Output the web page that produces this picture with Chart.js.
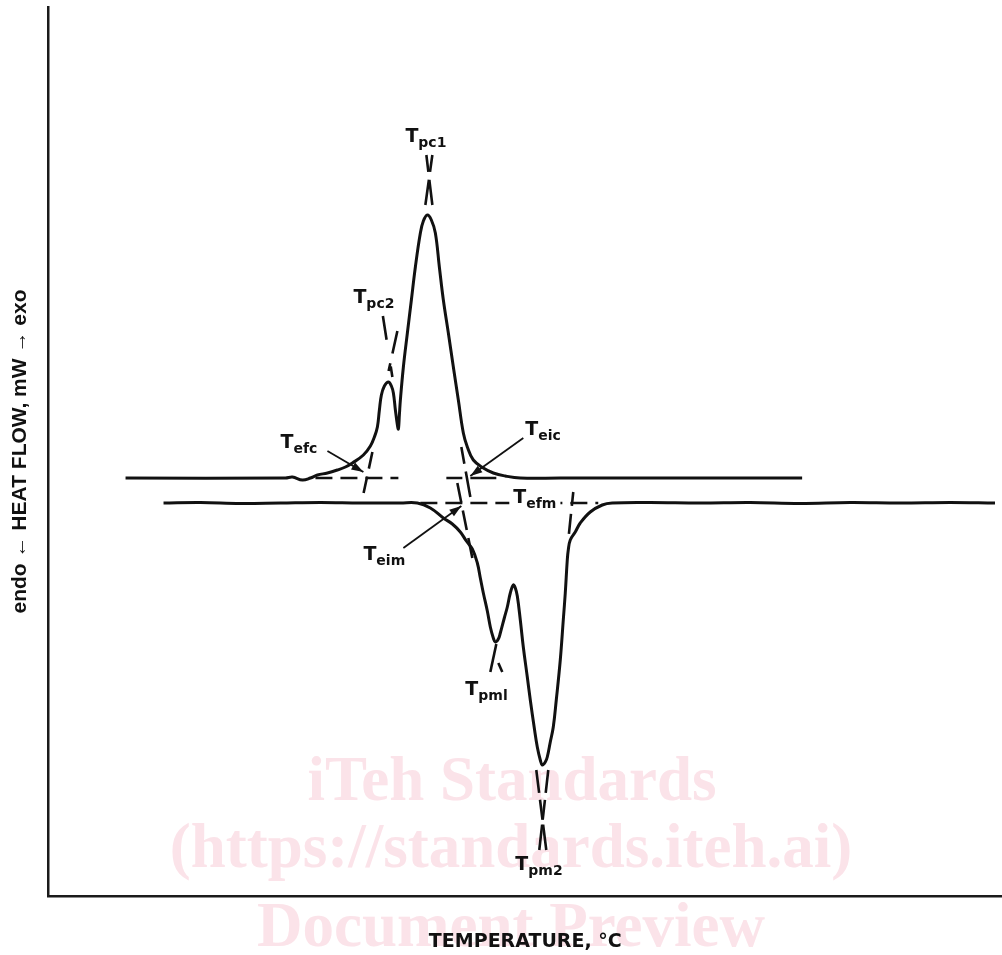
<!DOCTYPE html>
<html lang="en">
<head>
<meta charset="UTF-8">
<title>DSC curve</title>
<script src="https://cdn.jsdelivr.net/npm/chart.js"></script>
<style>
  html, body { margin: 0; padding: 0; background: #fff; }
  #wrap { width: 1002px; height: 955px; }
</style>
</head>
<body>
<div id="wrap"><canvas id="dsc"></canvas></div>
<script>
// cooling trace (exo peaks, upper curve)
const coolT  = [15.4, 47.4, 48.8, 50.8, 52.4, 53.8, 55.8, 57.8, 59.4, 60.8, 63.0, 64.4, 65.2, 65.8, 66.2, 66.6,
                67.2, 68.0, 68.6, 69.0, 69.4, 69.8, 70.0, 70.2, 70.4, 71.0, 71.8, 72.6, 73.4, 74.4, 75.0, 75.8,
                76.6, 77.4, 78.2, 79.0, 80.0, 81.0, 82.0, 83.0, 83.8, 85.0, 87.0, 89.0, 91.4, 94.4, 102.4, 150.8];
const coolHF = [0, 0, 0.1, -0.2, 0, 0.3, 0.5, 0.8, 1.1, 1.5, 2.3, 3.2, 4.1, 5.1, 6.8, 8.3,
                9.2, 9.6, 9.2, 8.5, 6.8, 5.3, 4.9, 6.3, 7.8, 11.1, 14.5, 17.8, 21.1, 24.5, 25.7, 26.3,
                25.8, 24.5, 21.1, 17.8, 14.5, 11.1, 7.8, 4.5, 3.1, 1.8, 1.0, 0.5, 0.2, 0, 0, 0];

// heating trace (endo peaks, lower curve)
const heatT  = [23.0, 30.4, 38.4, 46.4, 54.4, 62.4, 70.4, 73.8, 76.4, 79.0, 80.8, 82.4, 83.6, 84.8, 85.8, 86.4,
                87.0, 87.8, 88.4, 89.0, 89.4, 90.0, 90.4, 91.2, 91.8, 92.4, 93.0, 93.4, 93.8, 94.4, 95.0, 95.8,
                96.4, 97.2, 97.8, 98.4, 98.8, 99.4, 99.8, 100.4, 101.0, 101.6, 102.4, 103.0, 103.4, 103.8, 104.0, 104.4,
                105.4, 106.4, 108.4, 110.8, 112.8, 120.4, 130.4, 140.4, 150.4, 160.4, 170.4, 180.4, 189.4];
const heatHF = [-2.5, -2.45, -2.55, -2.5, -2.45, -2.5, -2.5, -2.5, -3.0, -4.0, -4.6, -5.4, -6.3, -7.1, -8.5, -10.0,
                -11.5, -13.3, -14.9, -16.0, -16.4, -16.1, -15.5, -14.0, -12.9, -11.5, -10.7, -11.0, -11.8, -14.2, -16.9, -19.9,
                -22.2, -25.0, -26.9, -28.2, -28.7, -28.4, -27.9, -26.4, -24.9, -22.2, -18.2, -14.2, -11.5, -8.2, -7.2, -6.2,
                -5.4, -4.5, -3.4, -2.7, -2.5, -2.45, -2.5, -2.45, -2.55, -2.45, -2.5, -2.45, -2.5];

// dashed baselines and tangents: [t1, hf1, t2, hf2]
const dashSegs = [
  [53.4, 0, 70.0, 0],
  [79.6, 0, 89.6, 0],
  [74.4, -2.5, 110.0, -2.5],
  [64.8, 2.6, 63.0, -1.6],
  [82.6, 3.1, 84.4, -1.9],
  [81.8, -0.5, 84.8, -8.0],
  [105.0, -1.4, 104.0, -6.2],
  [66.9, 16.2, 68.8, 10.1],
  [69.8, 14.7, 68.0, 10.6],
  [75.6, 32.3, 76.8, 27.3],
  [76.8, 32.3, 75.4, 27.3],
  [97.6, -29.2, 99.6, -37.2],
  [100.0, -29.2, 98.2, -37.2],
  [89.6, -16.6, 88.4, -19.4],
  [90.0, -18.5, 90.8, -19.4]
];
// dash pattern for each segment above
const dashStyle = [
  [17, 8], [16, 8, 26, 10], [17, 8], [17, 8], [17, 8, 26, 10], [20, 8, 20, 8, 21, 10], [14, 8, 20, 10],
  [24, 27, 12, 10], [23, 10, 8, 10], [17, 8, 26, 10], [17, 8, 26, 10],
  [23, 7, 20, 5, 30, 10], [23, 7, 20, 5, 30, 10], [40, 10], [20, 10]
];

// leader arrows, tail -> tip
const arrowSegs = [
  [55.8, 2.7, 63.0, 0.6],
  [95.0, 4.0, 84.4, 0.2],
  [71.0, -7.0, 82.6, -2.8]
];

// point labels (T + subscript), at left/baseline of the "T"
const labelSubs = ['pc1', 'pc2', 'efc', 'eic', 'efm', 'eim', 'pml', 'pm2'];
const labelT    = [71.4, 61.0, 46.4, 95.4, 93.0, 63.0, 83.4, 93.4];
const labelHF   = [33.6, 17.5, 3.0, 4.3, -2.5, -8.2, -21.7, -39.2];

const toPts = (xs, ys) => xs.map((x, i) => ({ x: x, y: ys[i] }));

const datasets = [
  { data: toPts(coolT, coolHF), borderColor: '#111', borderWidth: 3, tension: 0.4 },
  { data: toPts(heatT, heatHF), borderColor: '#111', borderWidth: 3, tension: 0.4 }
];
dashSegs.forEach((s, i) => datasets.push({
  data: [{ x: s[0], y: s[1] }, { x: s[2], y: s[3] }],
  borderColor: '#111', borderWidth: 2.6, borderDash: dashStyle[i]
}));
arrowSegs.forEach(s => datasets.push({
  data: [{ x: s[0], y: s[1] }, { x: s[2], y: s[3] }],
  borderColor: '#111', borderWidth: 1.8
}));

const watermark = {
  id: 'watermark',
  beforeDraw(chart) {
    const ctx = chart.ctx;
    ctx.save();
    ctx.fillStyle = '#fbe3e9';
    ctx.textAlign = 'center';
    ctx.textBaseline = 'alphabetic';
    ctx.font = 'bold 63px "Liberation Serif"';
    ctx.fillText('iTeh Standards', 512, 800);
    ctx.fillText('(https://standards.iteh.ai)', 511, 867);
    ctx.fillText('Document Preview', 511, 946);
    ctx.restore();
  }
};

const marks = {
  id: 'marks',
  afterDatasetsDraw(chart) {
    const ctx = chart.ctx;
    const xs = chart.scales.x, ys = chart.scales.y;
    ctx.save();
    ctx.fillStyle = '#111';
    // arrow heads
    arrowSegs.forEach(s => {
      const x1 = xs.getPixelForValue(s[0]), y1 = ys.getPixelForValue(s[1]);
      const x2 = xs.getPixelForValue(s[2]), y2 = ys.getPixelForValue(s[3]);
      const a = Math.atan2(y2 - y1, x2 - x1);
      ctx.beginPath();
      ctx.moveTo(x2, y2);
      ctx.lineTo(x2 - 12 * Math.cos(a) + 4 * Math.sin(a), y2 - 12 * Math.sin(a) - 4 * Math.cos(a));
      ctx.lineTo(x2 - 12 * Math.cos(a) - 4 * Math.sin(a), y2 - 12 * Math.sin(a) + 4 * Math.cos(a));
      ctx.closePath();
      ctx.fill();
    });
    // labels
    ctx.textBaseline = 'alphabetic';
    labelSubs.forEach((sub, i) => {
      const px = xs.getPixelForValue(labelT[i]);
      const py = ys.getPixelForValue(labelHF[i]);
      ctx.font = 'bold 19px "DejaVu Sans"';
      const wT = ctx.measureText('T').width;
      ctx.font = 'bold 14px "DejaVu Sans"';
      const wS = ctx.measureText(sub).width;
      if (sub === 'efm') {
        ctx.fillStyle = '#fff';
        ctx.fillRect(px - 4, py - 16, wT + wS + 8, 24);
        ctx.fillStyle = '#111';
      }
      ctx.font = 'bold 19px "DejaVu Sans"';
      ctx.fillText('T', px, py);
      ctx.font = 'bold 14px "DejaVu Sans"';
      ctx.fillText(sub, px + wT, py + 5);
    });
    ctx.restore();
  }
};

new Chart(document.getElementById('dsc'), {
  type: 'scatter',
  data: { datasets: datasets },
  options: {
    responsive: true,
    maintainAspectRatio: false,
    animation: false,
    showLine: true,
    layout: { padding: { top: 7, right: 0, left: 0, bottom: 0 } },
    elements: { point: { radius: 0, hoverRadius: 0 }, line: { tension: 0 } },
    plugins: { legend: { display: false }, tooltip: { enabled: false } },
    events: [],
    scales: {
      x: {
        type: 'linear', min: 0, max: 190.8,
        ticks: { display: false },
        grid: { display: false, drawTicks: false },
        border: { display: true, color: '#1a1a1a', width: 2.5 },
        title: {
          display: true, text: 'TEMPERATURE, °C', color: '#111',
          font: { family: 'DejaVu Sans', size: 19, weight: 'bold' },
          padding: { top: 34.6, bottom: 1.6 }
        }
      },
      y: {
        type: 'linear', min: -41.8, max: 47.1,
        ticks: { display: false },
        grid: { display: false, drawTicks: false },
        border: { display: true, color: '#1a1a1a', width: 2.5 },
        title: {
          display: true, text: 'endo ← HEAT FLOW, mW → exo', color: '#111',
          font: { family: 'Liberation Sans', size: 21, weight: 'bold' },
          padding: { top: 7.4, bottom: 16 }
        }
      }
    }
  },
  plugins: [watermark, marks]
});
</script>
</body>
</html>
